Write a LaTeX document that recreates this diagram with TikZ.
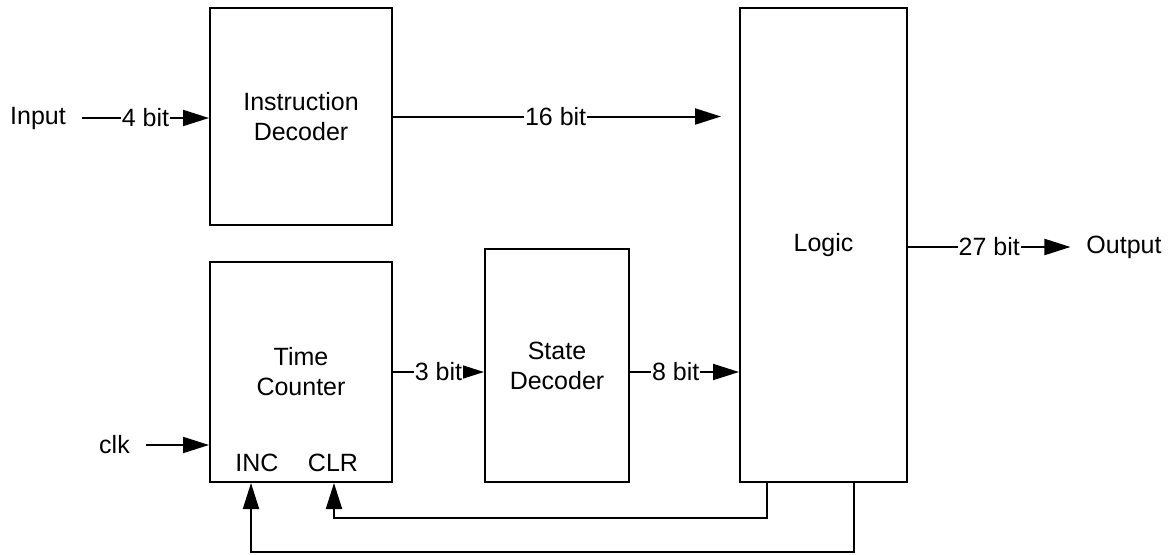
\documentclass[tikz,border=0pt]{standalone}
\usepackage{fontspec}
\setmainfont{Liberation Sans}
\usetikzlibrary{arrows.meta}
\begin{document}
\begin{tikzpicture}
      [x=1pt, y=-1pt, line width=2pt, >={Triangle[length=26pt,width=16pt]},
       font=\fontsize{25}{30}\selectfont,
       block/.style={rectangle,draw,align=center,inner sep=0pt},
       io/.style={inner sep=0pt, outer sep=16pt},
       bus/.style={fill=white,inner sep=1pt}]
      \useasboundingbox (0,0) rectangle (1174,554);

      \node[block, minimum width=182pt, minimum height=217pt] (id) at (301,116.5) {Instruction\\Decoder};
      \node[block, minimum width=182pt, minimum height=220pt] (tc) at (301,372) {Time\\Counter};
      \node[block, minimum width=144pt, minimum height=233pt] (sd) at (557,365.5) {State\\Decoder};
      \node[block, minimum width=167pt, minimum height=474pt] (lg) at (823.5,245) {Logic};

      \node[io] (in) at (38,118) {Input};
      \node[io] (clk) at (114.5,445) {clk};
      \node[io] (out) at (1124,247) {Output};
      \node (inc) at (257,463) {INC};
      \node (clr) at (333,463) {CLR};

      \coordinate (clrsrc) at (767,0);
      \coordinate (incsrc) at (854,0);
      \coordinate (clrdst) at (334,0);
      \coordinate (incdst) at (251,0);

      \draw[->] (in.east) -- node[bus] {4 bit} (id.west |- in.east);
      \draw[->, shorten >=18pt] (id.east) -- node[bus, pos=0.47] {16 bit} (lg.west |- id.east);
      \draw[->] (tc.east) -- node[bus] {3 bit} (sd.west |- tc.east);
      \draw[->] (sd.east |- tc.east) -- node[bus, pos=0.42] {8 bit} (lg.west |- tc.east);
      \draw[->] (lg.east |- out.west) -- node[bus] {27 bit} (out.west);
      \draw[->] (clk.east) -- (tc.west |- clk.east);
      \draw[->] (lg.south -| clrsrc) -- ++(0,35) -| (tc.south -| clrdst);
      \draw[->] (lg.south -| incsrc) -- ++(0,69) -| (tc.south -| incdst);
   \end{tikzpicture}
\end{document}
